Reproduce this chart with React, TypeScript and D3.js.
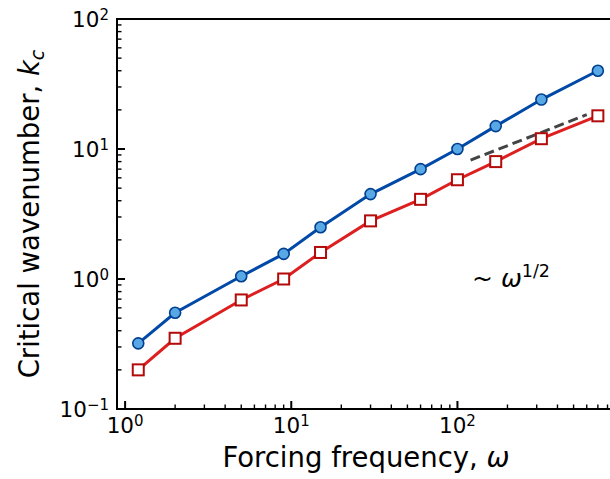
import React from "react";
import * as d3 from "d3";

const omega = [1.2, 2, 5, 9, 15, 30, 60, 100, 170, 320, 700];
const kBlue = [0.32, 0.55, 1.05, 1.56, 2.5, 4.5, 7.0, 10, 15, 24, 40];
const kRed = [0.2, 0.35, 0.69, 1.0, 1.6, 2.8, 4.1, 5.8, 8.0, 12, 18];
const refOmega = [120, 600];
const refCoef = 0.75;
const xMajor = [0, 1, 2];
const yMajor = [-1, 0, 1, 2];

const W = 610, H = 479;
const left = 117, top = 19, bottom = 409, right = 616;
const FONT = "DejaVu Sans, sans-serif";

export default function App() {
  const x = d3.scaleLog().domain([0.9, 900]).range([left + 0.5, right]);
  const y = d3.scaleLog().domain([0.1, 100]).range([bottom, top]);
  const line = d3.line<number>().x((_, i) => x(omega[i])).y((d) => y(d));

  const xMinor: number[] = [];
  for (let e = -1; e <= 2; e++) for (let m = 2; m <= 9; m++) {
    const v = m * Math.pow(10, e);
    if (v > 0.9 && v < 900) xMinor.push(v);
  }
  const yMinor: number[] = [];
  for (let e = -1; e <= 1; e++) for (let m = 2; m <= 9; m++) yMinor.push(m * Math.pow(10, e));

  const refLine = d3.line<number>().x((d) => x(d)).y((d) => y(refCoef * Math.sqrt(d)));
  const sq = 11;

  return (
    <svg width={W} height={H} style={{ position: "absolute", left: 0, top: 0, background: "#fff" }} fontFamily={FONT}>
      <defs>
        <clipPath id="plot"><rect x={left} y={top} width={right - left} height={bottom - top} /></clipPath>
      </defs>
      <rect width={W} height={H} fill="#fff" />
      {/* ticks */}
      {xMajor.map((e) => (
        <line key={"xM" + e} x1={x(Math.pow(10, e))} x2={x(Math.pow(10, e))} y1={bottom} y2={bottom - 8} stroke="#000" strokeWidth={2} />
      ))}
      {xMinor.map((v) => (
        <line key={"xm" + v} x1={x(v)} x2={x(v)} y1={bottom} y2={bottom - 4.5} stroke="#000" strokeWidth={1.4} />
      ))}
      {yMajor.map((e) => (
        <line key={"yM" + e} x1={left} x2={left + 8} y1={y(Math.pow(10, e))} y2={y(Math.pow(10, e))} stroke="#000" strokeWidth={2} />
      ))}
      {yMinor.map((v) => (
        <line key={"ym" + v} x1={left} x2={left + 4.5} y1={y(v)} y2={y(v)} stroke="#000" strokeWidth={1.4} />
      ))}
      {/* tick labels */}
      {xMajor.map((e) => (
        <text key={"xl" + e} x={x(Math.pow(10, e))} y={433} fontSize={21.5} textAnchor="middle" fill="#000">
          10<tspan fontSize={15} dy={-7.5}>{e < 0 ? "\u2212" + -e : String(e)}</tspan>
        </text>
      ))}
      {yMajor.map((e) => (
        <text key={"yl" + e} x={109} y={y(Math.pow(10, e)) + 8} fontSize={21.5} textAnchor="end" fill="#000">
          10<tspan fontSize={15} dy={-7.5}>{e < 0 ? "\u2212" + -e : String(e)}</tspan>
        </text>
      ))}
      {/* data */}
      <g clipPath="url(#plot)">
        <path d={refLine(refOmega) || ""} fill="none" stroke="#444" strokeWidth={3} strokeDasharray="10,5" />
        <path d={line(kRed) || ""} fill="none" stroke="#DD1F1F" strokeWidth={3} />
        {kRed.map((k, i) => (
          <rect key={"r" + i} x={x(omega[i]) - sq / 2} y={y(k) - sq / 2} width={sq} height={sq} fill="#fff" stroke="#B30A0A" strokeWidth={2} />
        ))}
        <path d={line(kBlue) || ""} fill="none" stroke="#0049A8" strokeWidth={3} />
        {kBlue.map((k, i) => (
          <circle key={"b" + i} cx={x(omega[i])} cy={y(k)} r={5.5} fill="#58A8E6" stroke="#003F8F" strokeWidth={1.6} />
        ))}
      </g>
      {/* spines */}
      <line x1={left} x2={left} y1={top - 1} y2={bottom + 1} stroke="#000" strokeWidth={2} />
      <line x1={left - 1} x2={W} y1={bottom} y2={bottom} stroke="#000" strokeWidth={2} />
      <line x1={left - 1} x2={W} y1={top} y2={top} stroke="#000" strokeWidth={2} />
      {/* annotation */}
      <text x={472} y={287} fontSize={25} fill="#000">
        ~ <tspan fontStyle="italic">ω</tspan><tspan fontSize={17.5} dy={-10}>1/2</tspan>
      </text>
      {/* axis labels */}
      <text x={366} y={467} fontSize={27.5} textAnchor="middle" fill="#000">
        Forcing frequency, <tspan fontStyle="italic">ω</tspan>
      </text>
      <text transform={`translate(39,${(top + bottom) / 2}) rotate(-90)`} fontSize={27.5} textAnchor="middle" fill="#000">
        Critical wavenumber, <tspan fontStyle="italic">k</tspan><tspan fontStyle="italic" fontSize={19} dy={5}>c</tspan>
      </text>
    </svg>
  );
}
